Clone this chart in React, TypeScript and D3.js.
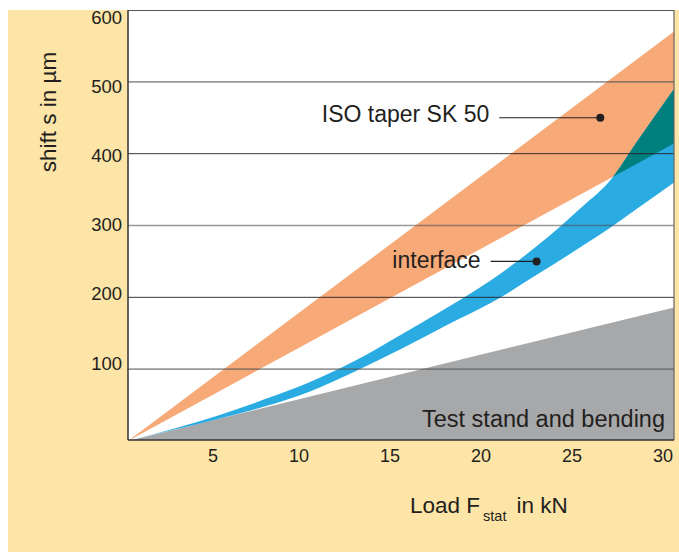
import React from "react";
import * as d3 from "d3";

// Load axis (kN) sampling for the bands
const loads = [0, 2.5, 5, 7.5, 10, 12.5, 15, 17.5, 20, 22.5, 25, 26.5, 28, 30];
// interface band (µm)
const interfaceUpper = [0, 17, 36, 58, 82, 112, 148, 185, 225, 272, 327, 363, 418, 490];
const interfaceLower = [0, 15.5, 31, 48, 69, 97, 128, 161, 193, 232, 272, 297, 324, 360];

// ISO taper SK 50 band (linear)
const isoLoads = [0, 30];
const isoUpper = [0, 570];
const isoLower = [0, 414];

// Test stand and bending (linear)
const testLoads = [0, 30];
const testShift = [0, 186];

// ticks
const xTicks = [5, 10, 15, 20, 25, 30];
const yTicks = [100, 200, 300, 400, 500, 600];
const gridValues = [100, 200, 300, 400, 500];

// annotations (data coordinates of the dots)
const annLabels = ["ISO taper SK 50", "interface"];
const annLoads = [25.95, 22.45];
const annShifts = [450, 250];

const FONT = "'Liberation Sans', Arial, Helvetica, sans-serif";
const TXT = "#231f20";

export default function App() {
  const left = 128, right = 674, top = 10, bottom = 440;
  const x = d3.scaleLinear().domain([0, 30]).range([left, right]);
  const y = d3.scaleLinear().domain([0, 600]).range([441, top]);
  const yLab = d3.scaleLinear().domain([100, 600]).range([363, 17]);

  const band = (xs: number[], lo: number[], hi: number[], curve: d3.CurveFactory) =>
    d3
      .area<number>()
      .x((_, i) => x(xs[i]))
      .y0((_, i) => y(lo[i]))
      .y1((_, i) => y(hi[i]))
      .curve(curve)(xs) as string;

  const grayPath = band(testLoads, testLoads.map(() => 0), testShift, d3.curveLinear);
  const isoPath = band(isoLoads, isoLower, isoUpper, d3.curveLinear);
  const ifPath = band(loads, interfaceLower, interfaceUpper, d3.curveMonotoneX);

  return (
    <svg
      width={679}
      height={552}
      style={{ position: "absolute", left: 0, top: 0, fontFamily: FONT }}
    >
      <defs>
        <clipPath id="plotClip">
          <rect x={left} y={top} width={right - left} height={bottom - top} />
        </clipPath>
        <clipPath id="isoClip">
          <path d={isoPath} />
        </clipPath>
      </defs>
      <rect x={8} y={10} width={671} height={542} fill="#fde4a7" />
      <rect x={left} y={top} width={right - left} height={bottom - top} fill="#ffffff" />
      <g clipPath="url(#plotClip)">
        <path d={grayPath} fill="#a7a8aa" />
        <path d={isoPath} fill="#f7a978" />
        <path d={ifPath} fill="#2aabe2" />
        <g clipPath="url(#isoClip)">
          <path d={ifPath} fill="#007f7f" />
        </g>
      </g>
      {gridValues.map((v) => (
        <line
          key={v}
          x1={left}
          x2={right}
          y1={y(v)}
          y2={y(v)}
          stroke={v % 200 === 0 ? "#222" : "#555"}
          strokeOpacity={v % 200 === 0 ? 0.9 : 0.6}
          strokeWidth={v % 200 === 0 ? 1 : 1.6}
        />
      ))}
      {/* frame */}
      <line x1={left} x2={right} y1={top + 0.5} y2={top + 0.5} stroke="#555" strokeWidth={1} />
      <line x1={right} x2={right} y1={top} y2={bottom} stroke="#666" strokeWidth={1.2} />
      <line x1={left} x2={left} y1={top} y2={bottom} stroke="#333" strokeWidth={1.5} />
      <line x1={left} x2={right} y1={bottom} y2={bottom} stroke="#333" strokeWidth={1.5} />

      {/* y tick labels */}
      {yTicks.map((v) => (
        <text
          key={v}
          x={122}
          y={yLab(v)}
          textAnchor="end"
          dominantBaseline="central"
          fontSize={18.5}
          fill={TXT}
        >
          {v}
        </text>
      ))}
      {/* x tick labels */}
      {xTicks.map((v) => (
        <text key={v} x={x(v) - 1} y={462} textAnchor="end" fontSize={18} fill={TXT}>
          {v}
        </text>
      ))}

      {/* axis titles */}
      <text
        transform="translate(55.5,112) rotate(-90)"
        textAnchor="middle"
        fontSize={22.5}
        fill={TXT}
      >
        shift s in µm
      </text>
      <text x={410} y={513} fontSize={22.5} fill={TXT}>
        Load F
        <tspan fontSize={14.5} dx={3} dy={8}>stat</tspan>
        <tspan dx={10} dy={-8}>in kN</tspan>
      </text>

      {/* annotations */}
      {annLabels.map((lab, i) => {
        const cx = x(annLoads[i]);
        const cy = y(annShifts[i]);
        const len = i === 0 ? 101 : 46;
        return (
          <g key={lab}>
            <line x1={cx - len} x2={cx} y1={cy} y2={cy} stroke="#231f20" strokeWidth={1.2} />
            <circle cx={cx} cy={cy} r={4} fill="#231f20" />
            <text
              x={cx - len - 10}
              y={cy + (i === 0 ? 4.5 : 6.5)}
              textAnchor="end"
              fontSize={23}
              fill={TXT}
            >
              {lab}
            </text>
          </g>
        );
      })}
      <text x={665} y={427} textAnchor="end" fontSize={23.5} fill={TXT}>
        Test stand and bending
      </text>
    </svg>
  );
}
